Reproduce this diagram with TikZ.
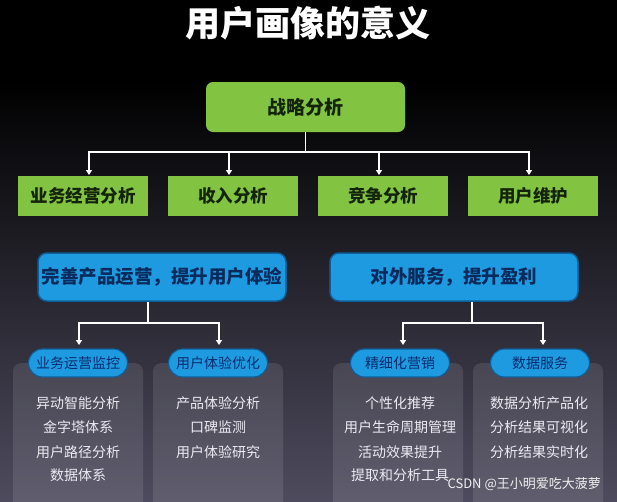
\documentclass[tikz,border=0pt]{standalone}
\usepackage{fontspec}
\setmainfont{Noto Sans CJK SC}
\usetikzlibrary{arrows.meta}
\definecolor{bgmid}{HTML}{2A2636}
\definecolor{bgbot}{HTML}{4E4B5E}
\definecolor{gfill}{HTML}{82C341}
\definecolor{gtext}{HTML}{14240A}
\definecolor{bfill}{HTML}{1E9BE0}
\definecolor{bedge}{HTML}{0F5E99}
\definecolor{btext}{HTML}{0B2A5C}
\definecolor{ptext}{HTML}{0A2A6E}
\definecolor{ltext}{HTML}{ECEAF2}
\tikzset{
  topbox/.style={fill=gfill, rounded corners=7pt, minimum width=199pt, minimum height=50pt,
    text=gtext, font=\fontsize{19}{19}\selectfont\bfseries, inner sep=0pt},
  greenbox/.style={fill=gfill, minimum width=130pt, minimum height=40pt,
    text=gtext, font=\fontsize{17.5}{17.5}\selectfont\bfseries, inner sep=0pt},
  bluebox/.style={fill=bfill, draw=bedge, line width=1.5pt, rounded corners=9pt,
    minimum width=248pt, minimum height=48pt, text=btext,
    font=\fontsize{18.5}{18.5}\selectfont\bfseries, inner sep=0pt},
  pill/.style={fill=bfill, draw=bedge, line width=1.2pt, rounded corners=14pt,
    minimum width=99pt, minimum height=28pt, text=ptext,
    font=\fontsize{14}{14}\selectfont, inner sep=0pt},
  panel/.style={fill=white, fill opacity=0.1, rounded corners=8pt, minimum width=130pt,
    minimum height=160pt, anchor=north, inner sep=0pt},
  item/.style={text=ltext, font=\fontsize{14}{14}\selectfont, inner sep=0pt},
  conn/.style={white, line width=1.5pt},
  tip/.tip={Triangle[width=6pt,length=5pt]},
  arr/.style={conn, -tip},
}
\begin{document}
\begin{tikzpicture}[x=1pt,y=-1pt]
\useasboundingbox (0,0) rectangle (617,501);
\fill[black] (0,0) rectangle (617,80);
\shade[top color=black, middle color=bgmid, bottom color=bgbot] (0,80) rectangle (617,501);

\node[text=white, font=\fontsize{35}{35}\selectfont\bfseries] (title) at (308,23) {用户画像的意义};

\node[topbox] (top) at (305.5,107) {战略分析};
\node[greenbox] (g1) at (83,196) {业务经营分析};
\node[greenbox] (g2) at (233,196) {收入分析};
\node[greenbox] (g3) at (383,196) {竞争分析};
\node[greenbox] (g4) at (533,196) {用户维护};

\coordinate (hj) at (0,152);
\coordinate (t1) at (89,175);
\coordinate (t2) at (229,175);
\coordinate (t3) at (379,175);
\coordinate (t4) at (529,175);
\draw[conn] (top.south) -- (top.south |- hj);
\draw[conn, tip-tip] (t1) -- (t1 |- hj) -- (t4 |- hj) -- (t4);
\draw[arr] (t2 |- hj) -- (t2);
\draw[arr] (t3 |- hj) -- (t3);

\node[bluebox] (b1) at (162,277) {完善产品运营，提升用户体验};
\node[bluebox] (b2) at (454,277) {对外服务，提升盈利};

\node[panel] (p1) at (78,363) {};
\node[panel] (p2) at (218,363) {};
\node[panel] (p3) at (398,363) {};
\node[panel] (p4) at (538,363) {};

\coordinate (hk) at (0,323);
\coordinate (d1) at (148,0);
\coordinate (d2) at (472,0);
\coordinate (s1) at (79,345);
\coordinate (s2) at (219,345);
\coordinate (s3) at (403,345);
\coordinate (s4) at (543,345);
\draw[conn] (b1.south -| d1) -- (d1 |- hk);
\draw[conn, tip-tip] (s1) -- (s1 |- hk) -- (s2 |- hk) -- (s2);
\draw[conn] (b2.south -| d2) -- (d2 |- hk);
\draw[conn, tip-tip] (s3) -- (s3 |- hk) -- (s4 |- hk) -- (s4);

\node[pill] (q1) at (78,363) {业务运营监控};
\node[pill] (q2) at (218,363) {用户体验优化};
\node[pill] (q3) at (400,363) {精细化营销};
\node[pill] (q4) at (540,363) {数据服务};

\node[item] (a1) at (78,403) {异动智能分析};
\node[item] (a2) at (78,427) {金字塔体系};
\node[item] (a3) at (78,452) {用户路径分析};
\node[item] (a4) at (78,475) {数据体系};

\node[item] (c1) at (218,403) {产品体验分析};
\node[item] (c2) at (218,427) {口碑监测};
\node[item] (c3) at (218,452) {用户体验研究};

\node[item] (e1) at (400,403) {个性化推荐};
\node[item] (e2) at (400,427) {用户生命周期管理};
\node[item] (e3) at (400,452) {活动效果提升};
\node[item] (e4) at (400,475) {提取和分析工具};

\node[item] (f1) at (539,403) {数据分析产品化};
\node[item] (f2) at (539,427) {分析结果可视化};
\node[item] (f3) at (539,452) {分析结果实时化};

\node[anchor=east, text=white!88!gray, font=\fontsize{13}{13}\selectfont, inner sep=0pt] (wm) at (601,484) {CSDN @王小明爱吃大菠萝};
\end{tikzpicture}
\end{document}
